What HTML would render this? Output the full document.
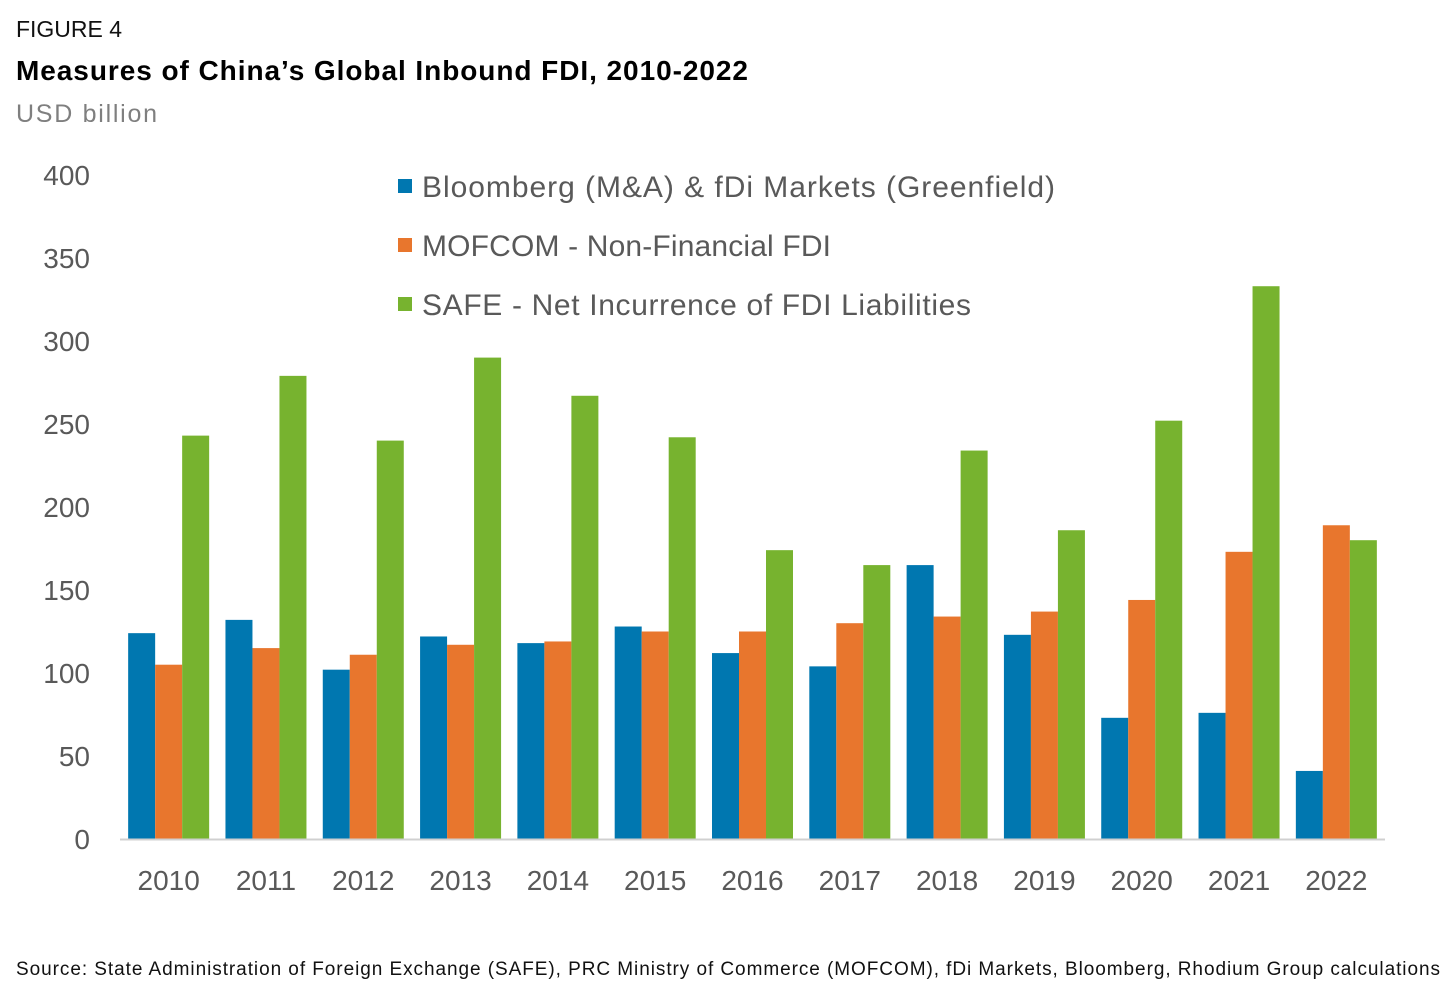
<!DOCTYPE html>
<html><head><meta charset="utf-8"><style>
body{margin:0;background:#fff;}
svg{display:block;font-family:"Liberation Sans",sans-serif;}
</style></head><body>
<svg id="chart" width="1456" height="995">
<text x="16" y="37" font-size="23" fill="#111" textLength="106">FIGURE 4</text>
<text x="16" y="80" font-size="28" font-weight="bold" fill="#000" textLength="732">Measures of China’s Global Inbound FDI, 2010-2022</text>
<text x="16" y="122" font-size="25" fill="#7f7f7f" textLength="141">USD billion</text>
<g id="yaxis"></g>
<g id="bars"></g>
<line x1="120" y1="839.5" x2="1385" y2="839.5" stroke="#d0d0d0" stroke-width="2"/>
<g id="xaxis"></g>
<g id="legend"></g>
<text x="16" y="975" font-size="19" fill="#111" textLength="1424">Source: State Administration of Foreign Exchange (SAFE), PRC Ministry of Commerce (MOFCOM), fDi Markets, Bloomberg, Rhodium Group calculations</text>
</svg>
<script>
const categories=["2010","2011","2012","2013","2014","2015","2016","2017","2018","2019","2020","2021","2022"];
const bloomberg=[124,132,102,122,118,128,112,104,165,123,73,76,41];
const mofcom=[105,115,111,117,119,125,125,130,134,137,144,173,189];
const safe=[243,279,240,290,267,242,174,165,234,186,252,333,180];
const yTicks=[0,50,100,150,200,250,300,350,400];
const seriesNames=["Bloomberg (M&A) & fDi Markets (Greenfield)","MOFCOM - Non-Financial FDI","SAFE - Net Incurrence of FDI Liabilities"];
const legendWidths=[633,409,549];
const colors=["#0077b0","#e8762d","#77b32f"];
const NS="http://www.w3.org/2000/svg";
const x0=120,x1=1385,yBase=839,pxPer=1.66;
const step=(x1-x0)/categories.length, bw=27;
const y=v=>yBase-v*pxPer;
const xg=i=>x0+i*step+(step-3*bw)/2;
function mk(t,a,p){const e=document.createElementNS(NS,t);for(const k in a)e.setAttribute(k,a[k]);p.appendChild(e);return e;}
const ya=document.getElementById('yaxis');
yTicks.forEach(v=>{const t=mk('text',{x:90,y:y(v)+10,'font-size':28,fill:'#595959','text-anchor':'end'},ya);


t.textContent=v;});
const xa=document.getElementById('xaxis');
categories.forEach((c,i)=>{const t=mk('text',{x:x0+i*step+step/2,y:890,'font-size':28,fill:'#595959','text-anchor':'middle'},xa);


t.textContent=c;});
const bars=document.getElementById('bars');
[bloomberg,mofcom,safe].forEach((s,si)=>{s.forEach((v,i)=>{const r=mk('rect',{x:xg(i)+si*bw,y:y(v),width:bw,height:v*pxPer,fill:colors[si]},bars);

});});
const lg=document.getElementById('legend');
seriesNames.forEach((n,i)=>{const g=mk('g',{},lg);


mk('rect',{x:398,y:179+i*59,width:14,height:14,fill:colors[i]},g);
const t=mk('text',{x:422,y:197+i*59,'font-size':30,fill:'#595959',textLength:legendWidths[i]},g);t.textContent=n;});
</script>
</body></html>
